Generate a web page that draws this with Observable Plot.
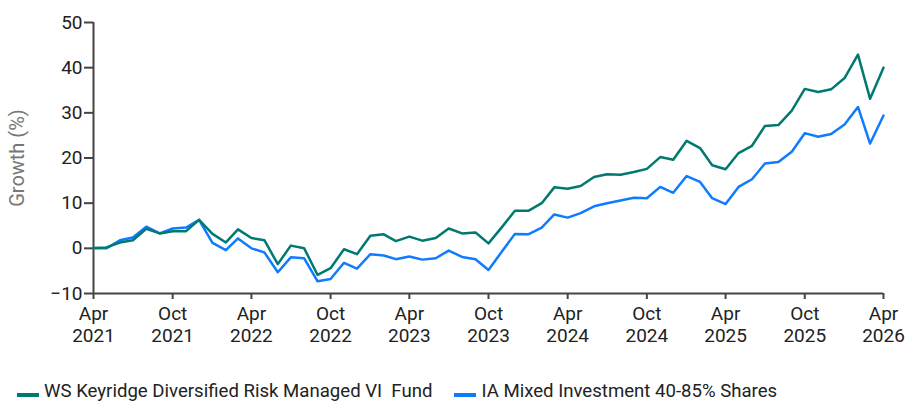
<!DOCTYPE html>
<html>
<head>
<meta charset="utf-8">
<script src="https://cdn.jsdelivr.net/npm/d3@7"></script>
<script src="https://cdn.jsdelivr.net/npm/@observablehq/plot@0.6"></script>
<style>
  html, body { margin: 0; padding: 0; background: #fff; }
  body { width: 906px; height: 403px; overflow: hidden; font-family: Roboto, "Liberation Sans", sans-serif; }
  #chart svg { display: block; }
  #chart svg [aria-label="y-axis label"] { fill: #777; font-size: 20px; }
  .legend { display: flex; align-items: baseline; margin-top: 31px; padding-left: 17px; font-size: 18.6px; line-height: 20px; color: #222; white-space: pre; }
  .item { display: flex; align-items: baseline; margin-right: 22px; }
  .sw { display: inline-block; width: 22px; height: 4px; margin-right: 5px; }
</style>
</head>
<body>
<div id="chart"></div>
<div class="legend" id="legend"></div>
<script>
// ---- data (monthly, Apr 2021 .. Apr 2026) ----
const startMonth = "2021-04-01";
const seriesNames = ["WS Keyridge Diversified Risk Managed VI  Fund", "IA Mixed Investment 40-85% Shares"];
const seriesColors = ["#007a70", "#0f7bff"];
const fundValues = [
  0.1, 0.2, 1.3, 1.8, 4.3, 3.3, 3.8, 3.8, 6.3, 3.2, 1.3, 4.2,
  2.3, 1.8, -3.5, 0.6, 0.0, -5.9, -4.4, -0.2, -1.3, 2.8, 3.1, 1.6,
  2.6, 1.7, 2.3, 4.4, 3.3, 3.5, 1.1, 4.7, 8.3, 8.3, 10.0, 13.5,
  13.2, 13.8, 15.8, 16.4, 16.3, 16.9, 17.6, 20.2, 19.6, 23.8, 22.2, 18.4,
  17.5, 21.1, 22.7, 27.1, 27.3, 30.5, 35.3, 34.6, 35.2, 37.7, 42.9, 33.1,
  40.0
];
const sectorValues = [
  0.0, 0.0, 1.8, 2.4, 4.8, 3.3, 4.4, 4.6, 6.3, 1.2, -0.4, 2.2,
  0.0, -0.9, -5.3, -2.0, -2.2, -7.3, -6.8, -3.2, -4.5, -1.3, -1.6, -2.4,
  -1.8, -2.5, -2.2, -0.5, -1.9, -2.4, -4.8, -0.7, 3.2, 3.1, 4.6, 7.5,
  6.8, 7.8, 9.3, 10.0, 10.6, 11.2, 11.1, 13.6, 12.3, 16.0, 14.7, 11.1,
  9.8, 13.6, 15.3, 18.8, 19.1, 21.4, 25.5, 24.7, 25.3, 27.4, 31.3, 23.2,
  29.4
];
const yTicks = [-10, 0, 10, 20, 30, 40, 50];
const xTickDates = ["2021-04-01","2021-10-01","2022-04-01","2022-10-01","2023-04-01","2023-10-01",
                    "2024-04-01","2024-10-01","2025-04-01","2025-10-01","2026-04-01"];
const yLabel = "Growth (%)";

// ---- build tables ----
const start = new Date(startMonth + "T00:00:00Z");
const toRows = (vals) => vals.map((v, i) => ({date: d3.utcMonth.offset(start, i), value: v}));
const fundRows = toRows(fundValues);
const sectorRows = toRows(sectorValues);
const tickDates = xTickDates.map(s => new Date(s + "T00:00:00Z"));
const fmt = d3.utcFormat("%b\n%Y");

const chart = Plot.plot({
  width: 906,
  height: 350,
  marginLeft: 93,
  marginRight: 23,
  marginTop: 22,
  marginBottom: 57,
  style: {fontFamily: "Roboto, 'Liberation Sans', sans-serif", fontSize: "19px", color: "#222", background: "#fff"},
  x: {type: "utc", domain: [tickDates[0], tickDates[tickDates.length - 1]]},
  y: {domain: [-10, 50]},
  marks: [
    Plot.axisY({ticks: yTicks, tickSize: 9, tickPadding: 2, stroke: "#444", strokeWidth: 2, fill: "#222",
                label: yLabel, labelAnchor: "center", labelArrow: "none", labelOffset: 84}),
    Plot.axisX({ticks: tickDates, tickFormat: fmt, tickSize: 6, tickPadding: 4, lineHeight: 1.2,
                stroke: "#444", strokeWidth: 2, fill: "#222", label: null}),
    Plot.ruleY([-10], {stroke: "#444", strokeWidth: 2}),
    Plot.ruleX([tickDates[0]], {stroke: "#444", strokeWidth: 2}),
    Plot.lineY(sectorRows, {x: "date", y: "value", stroke: seriesColors[1], strokeWidth: 2.5}),
    Plot.lineY(fundRows, {x: "date", y: "value", stroke: seriesColors[0], strokeWidth: 2.5})
  ]
});
document.getElementById("chart").appendChild(chart);

const legend = document.getElementById("legend");
seriesNames.forEach((name, i) => {
  const item = document.createElement("div");
  item.className = "item";
  const sw = document.createElement("span");
  sw.className = "sw";
  sw.style.background = seriesColors[i];
  const label = document.createElement("span");
  label.textContent = name;
  item.appendChild(sw);
  item.appendChild(label);
  legend.appendChild(item);
});
</script>
</body>
</html>
